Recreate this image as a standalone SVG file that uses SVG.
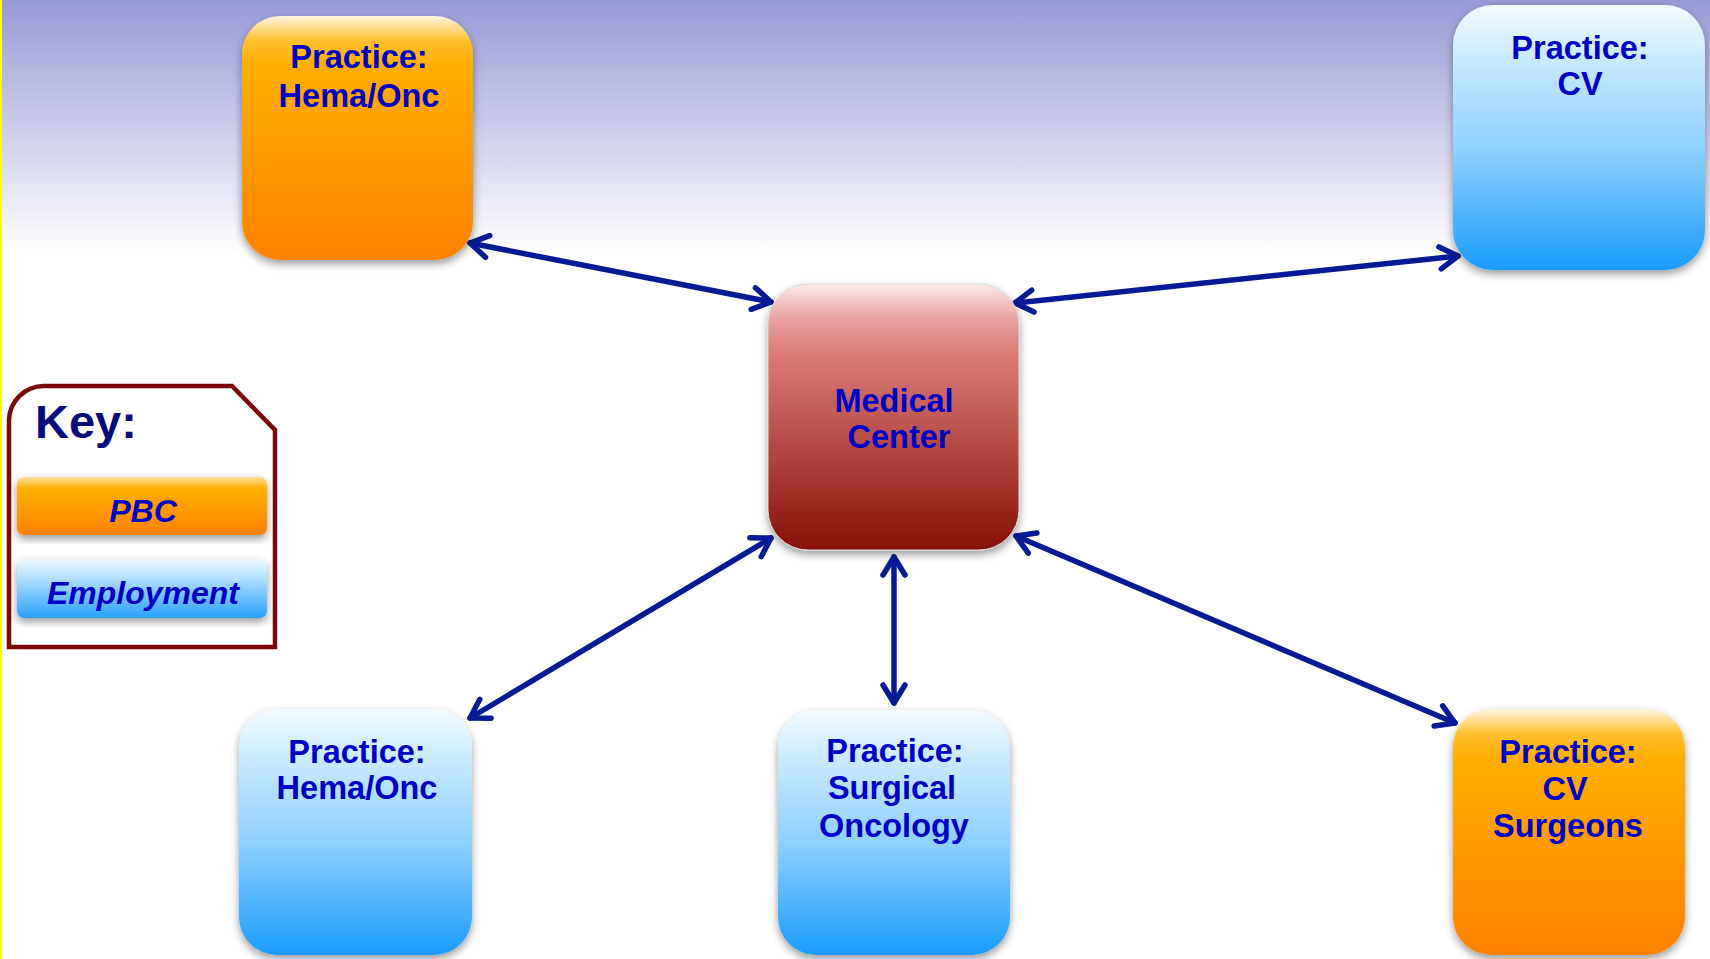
<svg xmlns="http://www.w3.org/2000/svg" width="1710" height="959" viewBox="0 0 1710 959">
<defs>
<style>
.lbl{font-family:"Liberation Sans",Arial,sans-serif;font-weight:bold;font-size:32.5px;fill:#0000c4;text-anchor:middle}
.key{font-family:"Liberation Sans",Arial,sans-serif;font-weight:bold;font-size:47px;fill:#0a0a7a}
.kl{font-family:"Liberation Sans",Arial,sans-serif;font-weight:bold;font-style:italic;font-size:32px;fill:#0000c4;text-anchor:middle}
.conn{stroke:#071a96;stroke-width:5.5;fill:none;stroke-linecap:round;marker-start:url(#ah);marker-end:url(#ah)}
</style>
<linearGradient id="bg" x1="0" y1="0" x2="0" y2="1">
<stop offset="0" stop-color="#989ad6"/>
<stop offset="1" stop-color="#ffffff"/>
</linearGradient>
<linearGradient id="gOr" x1="0" y1="0" x2="0" y2="1">
<stop offset="0" stop-color="#fff6e0"/>
<stop offset="0.1" stop-color="#ffc030"/>
<stop offset="0.2" stop-color="#ffae00"/>
<stop offset="1" stop-color="#ff8200"/>
</linearGradient>
<linearGradient id="gBl" x1="0" y1="0" x2="0" y2="1">
<stop offset="0" stop-color="#f4fbff"/>
<stop offset="0.2" stop-color="#c8eaff"/>
<stop offset="0.55" stop-color="#8ccfff"/>
<stop offset="1" stop-color="#1a9cfc"/>
</linearGradient>
<linearGradient id="gRd" x1="0" y1="0" x2="0" y2="1">
<stop offset="0" stop-color="#fbeaea"/>
<stop offset="0.12" stop-color="#eaa6a6"/>
<stop offset="0.25" stop-color="#dc7e7a"/>
<stop offset="1" stop-color="#881008"/>
</linearGradient>
<linearGradient id="gOrK" x1="0" y1="0" x2="0" y2="1">
<stop offset="0" stop-color="#ffe0a0"/>
<stop offset="0.2" stop-color="#ffb000"/>
<stop offset="1" stop-color="#ff8000"/>
</linearGradient>
<linearGradient id="gBlK" x1="0" y1="0" x2="0" y2="1">
<stop offset="0" stop-color="#f0f9ff"/>
<stop offset="0.3" stop-color="#b6e2ff"/>
<stop offset="1" stop-color="#2aa0fc"/>
</linearGradient>
<filter id="sh" x="-10%" y="-10%" width="120%" height="125%">
<feDropShadow dx="0" dy="4" stdDeviation="4" flood-color="#000" flood-opacity="0.4"/>
</filter>
<marker id="ah" viewBox="-22 -14 26 28" markerWidth="26" markerHeight="28" refX="0" refY="0" orient="auto-start-reverse" markerUnits="userSpaceOnUse">
<path d="M-18,-11 L0,0 L-18,11" fill="none" stroke="#071a96" stroke-width="5.5" stroke-linecap="round" stroke-linejoin="round"/>
</marker>
</defs>
<rect x="0" y="0" width="1710" height="959" fill="#ffffff"/>
<rect x="0" y="0" width="1710" height="255" fill="url(#bg)"/>
<rect x="0" y="0" width="2" height="959" fill="#ffff00"/>

<g id="connectors">
<line class="conn" x1="470" y1="243" x2="771" y2="302"/>
<line class="conn" x1="1015" y1="303" x2="1458" y2="256"/>
<line class="conn" x1="771" y1="538" x2="470" y2="718"/>
<line class="conn" x1="894" y1="557" x2="894" y2="703"/>
<line class="conn" x1="1016" y1="536" x2="1455" y2="723"/>
</g>

<g id="hemaonc-pbc">
<rect x="242" y="16" width="231" height="244" rx="38" fill="url(#gOr)" filter="url(#sh)"/>
<text class="lbl" x="359" y="68">Practice:</text>
<text class="lbl" x="359" y="107">Hema/Onc</text>
</g>

<g id="cv-employment">
<rect x="1453" y="5" width="252" height="265" rx="40" fill="url(#gBl)" filter="url(#sh)"/>
<text class="lbl" x="1580" y="59">Practice:</text>
<text class="lbl" x="1580" y="95">CV</text>
</g>

<g id="medical-center">
<rect x="768" y="284" width="251" height="266" rx="40" fill="url(#gRd)" stroke="#d8d8d8" stroke-width="1" filter="url(#sh)"/>
<text class="lbl" x="894" y="412">Medical</text>
<text class="lbl" x="899" y="448">Center</text>
</g>

<g id="hemaonc-employment">
<rect x="239" y="709" width="233" height="246" rx="38" fill="url(#gBl)" filter="url(#sh)"/>
<text class="lbl" x="357" y="763">Practice:</text>
<text class="lbl" x="357" y="799">Hema/Onc</text>
</g>

<g id="surgonc-employment">
<rect x="778" y="710" width="232" height="245" rx="38" fill="url(#gBl)" filter="url(#sh)"/>
<text class="lbl" x="895" y="762">Practice:</text>
<text class="lbl" x="892" y="799">Surgical</text>
<text class="lbl" x="894" y="837">Oncology</text>
</g>

<g id="cvsurgeons-pbc">
<rect x="1453" y="709" width="232" height="246" rx="38" fill="url(#gOr)" filter="url(#sh)"/>
<text class="lbl" x="1568" y="763">Practice:</text>
<text class="lbl" x="1565" y="800">CV</text>
<text class="lbl" x="1568" y="837">Surgeons</text>
</g>

<g id="key">
<path d="M9,647 L9,420 A35,35 0 0 1 44,386 L232,386 L275,430 L275,647 Z" fill="#ffffff" stroke="#7a0a0a" stroke-width="4.5"/>
<text class="key" x="35" y="438">Key:</text>
<rect x="17" y="477" width="250" height="58" rx="7" fill="url(#gOrK)" filter="url(#sh)"/>
<text class="kl" x="143" y="522">PBC</text>
<rect x="17" y="559" width="250" height="59" rx="7" fill="url(#gBlK)" filter="url(#sh)"/>
<text class="kl" x="143" y="604">Employment</text>
</g>
</svg>
